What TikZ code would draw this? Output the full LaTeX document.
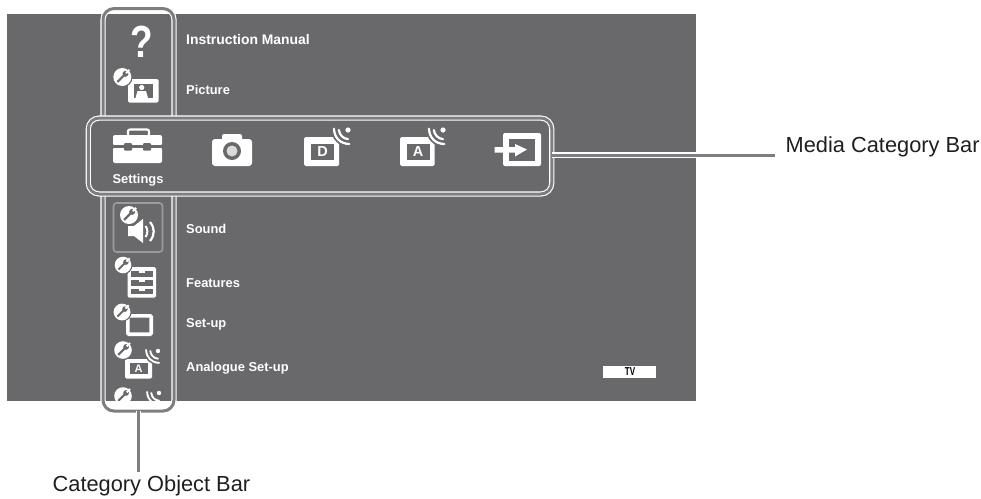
\documentclass[tikz,border=0pt]{standalone}
\usepackage{fontspec}
\setmainfont{Liberation Sans}
\definecolor{panel}{HTML}{69696B}
\definecolor{barcore}{HTML}{7E7E80}
\definecolor{framegray}{HTML}{9C9C9E}
\tikzset{
  barline/.style={draw=white,line width=1.1pt,double=barcore,double distance=3pt},
  barbox/.style={barline,rectangle,rounded corners=11pt,inner sep=0pt,outer sep=0pt},
  menutext/.style={text=white,font=\fontsize{12.9}{15}\selectfont\bfseries,inner sep=0pt,anchor=west},
  calltext/.style={text=black!88,font=\fontsize{21.8}{25}\selectfont,inner sep=0pt,outer sep=3pt,anchor=base west},
  letter/.style={text=white,font=\fontsize{14.5}{16}\selectfont\bfseries,inner sep=0pt},
  ic/.style={fill=white,draw=none},
}
\newcommand{\wrenchbadge}[3]{%
  \begin{scope}[shift={(#1,#2)},scale=#3]
    \fill[panel] (0,0) circle (1.15);
    \fill[white] (0,0) circle (1);
    \draw[panel,line width=#3*0.24pt] (-.55,.55) -- (.22,-.22);
    \fill[panel] (.35,-.35) circle (.33);
    \draw[white,line width=#3*0.22pt] (.42,-.42) -- (.8,-.8);
  \end{scope}}
\newcommand{\waves}[3]{%
  \begin{scope}[shift={(#1,#2)},scale=#3]
    \draw[panel,line width=#3*.45pt] (-1.08,-.1) .. controls (-1.05,.6) and (-.6,1.05) .. (.1,1.08);
    \fill[white] (0,0) circle (.2);
    \draw[white,line width=#3*.17pt,line cap=round] (-.7,.0) .. controls (-.68,.36) and (-.36,.68) .. (0,.7);
    \draw[white,line width=#3*.17pt,line cap=round] (-1.08,-.1) .. controls (-1.05,.6) and (-.6,1.05) .. (.1,1.08);
  \end{scope}}
\begin{document}
\begin{tikzpicture}[x=1pt,y=-1pt]
\useasboundingbox (0,0) rectangle (981,498);
\fill[panel] (7,14) rectangle (696,400.5);
% bars
\node[barbox,minimum width=71pt,minimum height=402.5pt] (catbar) at (138.5,209.8) {};
\node[barbox,fill=panel,minimum width=463.5pt,minimum height=76pt] (medbar) at (320,156) {};
% callouts
\coordinate (medend) at (775,155);
\node[calltext] (medlabel) at (782.7,152.3) {Media Category Bar};
\node[calltext] (catlabel) at (49.7,491) {Category Object Bar};
\draw[barline] (medbar.east |- medend) -- (medend);
\draw[barline] (catbar.south) -- (catbar.south |- catlabel.north);
% menu texts
\node[menutext,font=\fontsize{13.9}{15}\selectfont\bfseries] (t1) at (186,40) {Instruction Manual};
\node[menutext] (t2) at (186,90) {Picture};
\node[menutext] (t3) at (186,229) {Sound};
\node[menutext] (t4) at (186,283) {Features};
\node[menutext] (t5) at (186,324) {Set-up};
\node[menutext] (t6) at (186,368) {Analogue Set-up};
\node[menutext,anchor=center] (t7) at (138,180.5) {Settings};
% question mark
\node[inner sep=0pt,text=white,font=\fontsize{45}{50}\selectfont\bfseries,transform shape,xscale=.82] (q) at (142,42) {?};
% picture icon
\fill[ic,rounded corners=1.5pt] (128,79) rectangle (158.5,102.5);
\fill[panel] (134,84) rectangle (153,98);
\fill[white] (141.7,87.5) circle (2.6);
\fill[white] (135.5,98) -- (137.5,91) -- (146,91) -- (148,98) -- cycle;
\wrenchbadge{122.3}{77}{9}
% toolbox
\draw[white,line width=2.2pt,rounded corners=2pt] (128,136) -- (128,129.5) -- (149,129.5) -- (149,136);
\fill[ic,rounded corners=2pt] (113,135) rectangle (162,145.5);
\fill[ic,rounded corners=2pt] (113,147.5) rectangle (162,163);
\fill[panel] (113,145) rectangle (162,148);
\fill[panel,rounded corners=1pt] (124,143) rectangle (132,150.5);
\fill[panel,rounded corners=1pt] (143,143) rectangle (151,150.5);
% camera
\fill[ic,rounded corners=3pt] (212,139) rectangle (252,166);
\fill[ic,rounded corners=2pt] (222,134) rectangle (242,145);
\fill[panel] (232,151) circle (9);
\fill[white!75!panel] (232,151) circle (5.5);
% digital icon
\fill[ic,rounded corners=1.5pt] (304,137) rectangle (339,166);
\fill[panel] (311,144) rectangle (334,160);
\node[letter] (ld) at (322.5,152) {D};
\waves{348}{130}{13}
% analogue icon
\fill[ic,rounded corners=1.5pt] (400,137) rectangle (434.5,166);
\fill[panel] (406.5,144) rectangle (430,160);
\node[letter] (la) at (418,152) {A};
\waves{443}{130}{13}
% input icon
\fill[ic,rounded corners=2pt] (503,133) rectangle (541,166);
\fill[panel] (508.5,139) rectangle (535,161);
\fill[ic] (494.5,147) -- (515,147) -- (515,144) -- (527,149.5) -- (515,156.5) -- (515,152.5) -- (494.5,152.5) -- cycle;
% sound icon
\draw[framegray,line width=1.6pt,rounded corners=3pt] (113.5,203) rectangle (162.5,252);
\fill[ic] (128,226) -- (134,226) -- (143,219) -- (143,243) -- (134,236) -- (128,236) -- cycle;
\draw[white,line width=2pt] (145.5,226) .. controls (148,229) and (148,234) .. (145.5,237);
\draw[white,line width=2.2pt] (150,222) .. controls (155,228) and (155,235) .. (150,241);
\wrenchbadge{129}{215}{9}
% features icon
\fill[ic,rounded corners=1.5pt] (127.5,267) rectangle (156,297.5);
\fill[panel] (131,271) rectangle (153,277);
\fill[panel] (131,280) rectangle (153,285.5);
\fill[panel] (131,288.5) rectangle (153,294);
\fill[ic] (139,271) rectangle (145,273);
\fill[ic] (139,280) rectangle (145,282);
\fill[ic] (139,288.5) rectangle (145,290.5);
\wrenchbadge{123}{265}{8.3}
% set-up icon
\draw[white,line width=3.6pt,rounded corners=1pt] (127.8,315.8) rectangle (151.2,334.2);
\wrenchbadge{122}{312}{8.4}
% analogue set-up icon
\fill[ic,rounded corners=1.5pt] (125,359) rectangle (152,378.5);
\fill[panel] (130,362.5) rectangle (147.5,374);
\node[letter,font=\fontsize{11}{12}\selectfont\bfseries] (la2) at (138.7,368.3) {A};
\waves{158}{351}{11}
\wrenchbadge{123}{350}{8.8}
% clipped last icon
\begin{scope}
  \clip (104,380) rectangle (173,400.5);
  \waves{159}{393}{11}
  \wrenchbadge{123}{396}{8.8}
\end{scope}
% TV badge
\fill[white] (603,366) rectangle (656,378);
\node[inner sep=0pt,text=black,font=\fontsize{11.5}{12}\selectfont\bfseries,transform shape,xscale=.7] (tv) at (630,372) {TV};
\end{tikzpicture}
\end{document}
